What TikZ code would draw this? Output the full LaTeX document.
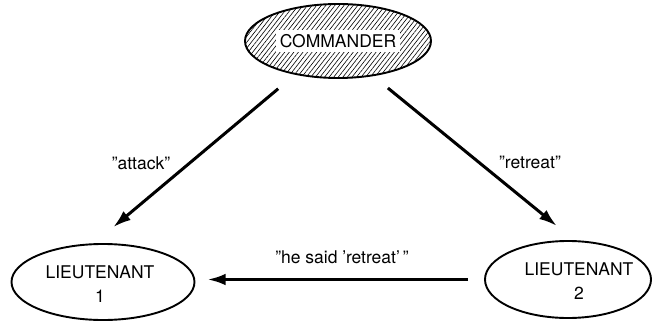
\documentclass[tikz,border=0pt]{standalone}
\usepackage{fontspec}
\setmainfont{TeX Gyre Heros}
\usetikzlibrary{shapes.geometric,arrows.meta,patterns.meta}
\begin{document}
\begin{tikzpicture}[x=1pt,y=-1pt,
  every node/.style={font=\fontsize{17.5}{24}\selectfont},
  ell/.style={ellipse,draw,line width=1.9pt,inner sep=0pt,outer sep=0pt,align=center},
  conn/.style={line width=3pt,-{Latex[length=18pt,width=11.5pt]}},
  lbl/.style={inner sep=0pt,align=center}]
\useasboundingbox (0,0) rectangle (652,323);
\node[ell,minimum width=186pt,minimum height=74pt,
  pattern={Lines[angle=52,distance=3.6pt,line width=0.6pt]}] (cmd) at (338,41) {};
\node[fill=white,inner sep=4pt,outer sep=0pt] (cmdtxt) at (cmd.center) {COMMANDER};
\node[ell,minimum width=183pt,minimum height=76pt] (l1) at (103,282) {};
\node[lbl] (l1t) at (100,284) {LIEUTENANT\\1};
\node[ell,minimum width=166pt,minimum height=77pt] (l2) at (568,279.5) {};
\node[lbl] (l2t) at (579,281) {LIEUTENANT\\2};
\draw[conn,shorten <=23pt,shorten >=26.5pt] (cmd.218) -- (l1.105.2);
\draw[conn,shorten <=20pt,shorten >=24pt] (cmd.315) -- (l2.79.1);
\draw[conn,shorten <=17pt,shorten >=13pt] (l2.west) -- (l2.west -| l1.east);
\node[lbl] (la) at (141,163) {''attack''};
\node[lbl] (lr) at (530,162) {''retreat''};
\node[lbl] (lh) at (342,257) {''he said 'retreat'\,''};
\end{tikzpicture}
\end{document}
